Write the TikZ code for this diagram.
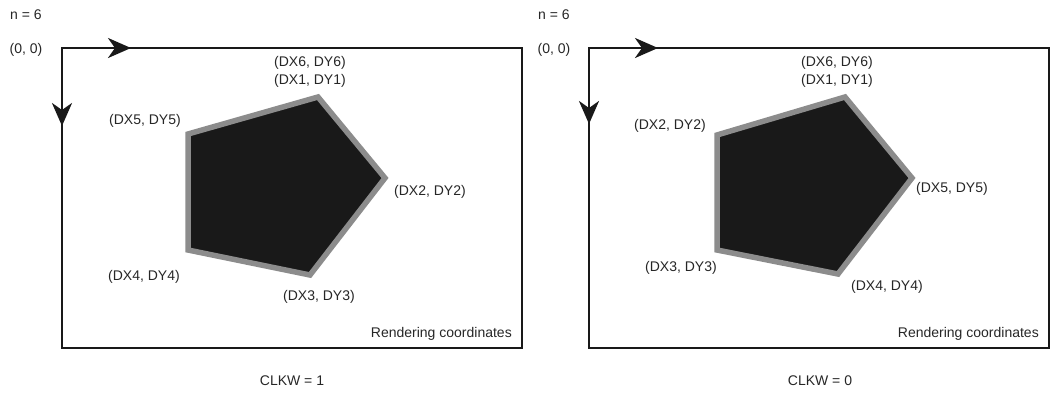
\documentclass[tikz,border=0pt]{standalone}
\usepackage{fontspec}
\setmainfont{Liberation Sans}
\usetikzlibrary{arrows.meta}
\begin{document}
\begin{tikzpicture}[x=1pt,y=-1pt,every node/.style={font=\fontsize{14}{16}\selectfont,inner sep=0pt,text=black!85},
frame/.style={draw=black!90,line width=2.8pt},
flow/.style={draw=black!90,line width=2.8pt,-{Stealth[length=23pt,width=20pt,inset=7pt]}},
poly/.style={draw=black!45,fill=black!90,line width=5.5pt,line join=miter}]
\useasboundingbox (0,0) rectangle (1053,392);
% clockwise
\begin{scope}
\coordinate (o) at (62,48);\coordinate (c) at (522,348);
\draw[frame] (o) rectangle (c);
\coordinate (h) at (131,48);\coordinate (v) at (62,126);
\draw[flow] (o)--(h);\draw[flow] (o)--(v);
\draw[poly] (318,97)--(385,178)--(310,275)--(188,250)--(188,134)--cycle;
\node (n) at (26,15) {n = 6};
\node (org) at (26,50) {(0, 0)};
\node (p6) at (310,63) {(DX6, DY6)};
\node (p1) at (310,81) {(DX1, DY1)};
\node (p5) at (145,121) {(DX5, DY5)};
\node (p2) at (430,192) {(DX2, DY2)};
\node (p4) at (144,277) {(DX4, DY4)};
\node (p3) at (319,297) {(DX3, DY3)};
\node[anchor=east] (rc) at (512,334) {Rendering coordinates};
\node (cap) at (292,381) {CLKW = 1};
\end{scope}
% counter-clockwise
\begin{scope}[xshift=527pt]
\coordinate (o) at (62,48);\coordinate (c) at (522,348);
\draw[frame] (o) rectangle (c);
\coordinate (h) at (131,48);\coordinate (v) at (62,124);
\draw[flow] (o)--(h);\draw[flow] (o)--(v);
\draw[poly] (318,97)--(385,178)--(311,274)--(190,250)--(190,135)--cycle;
\node (n) at (27,15) {n = 6};
\node (org) at (27,50) {(0, 0)};
\node (p6) at (310,63) {(DX6, DY6)};
\node (p1) at (310,81) {(DX1, DY1)};
\node (p2) at (143,126) {(DX2, DY2)};
\node (p5) at (425,189) {(DX5, DY5)};
\node (p3) at (154,268) {(DX3, DY3)};
\node (p4) at (360,287) {(DX4, DY4)};
\node[anchor=east] (rc) at (512,334) {Rendering coordinates};
\node (cap) at (293,381) {CLKW = 0};
\end{scope}
\end{tikzpicture}
\end{document}
